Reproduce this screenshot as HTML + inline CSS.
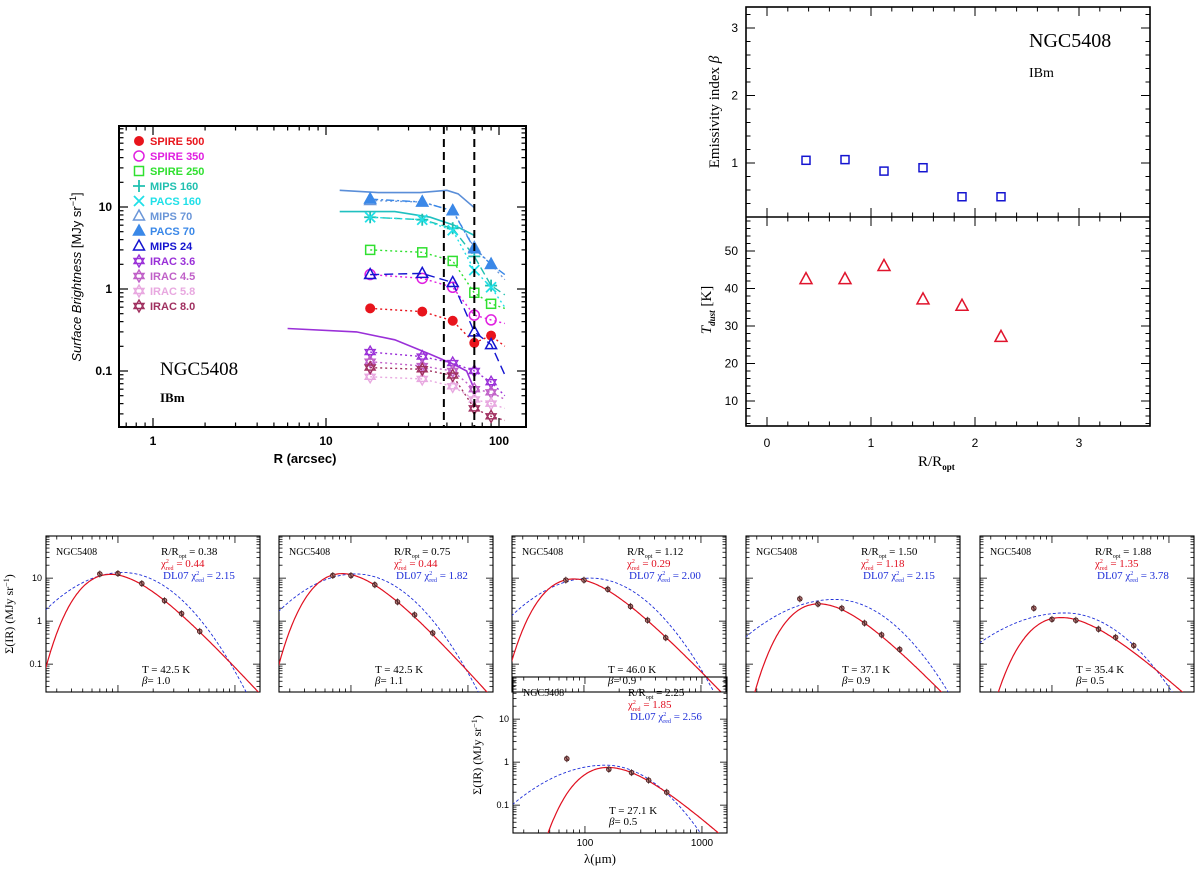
<!DOCTYPE html>
<html><head><meta charset="utf-8"><style>
html,body{margin:0;padding:0;background:#fff;width:1200px;height:869px;overflow:hidden;}
svg{display:block;}
text{font-family:"Liberation Sans",sans-serif;}
.sf{font-family:"Liberation Serif",serif;}
</style></head><body>
<svg id="fig" width="1200" height="869" viewBox="0 0 1200 869" xmlns="http://www.w3.org/2000/svg">
<defs>
<clipPath id="c1"><rect x="119" y="126" width="407" height="301"/></clipPath>
</defs>
<g id="g1"></g>
<g id="g2"></g>
<g id="g3"></g>
</svg>
<script>
// ===== Panel 1: radial profiles =====
const radii = [18, 36, 54, 72, 90, 108];
const bandNames = ['SPIRE 500','SPIRE 350','SPIRE 250','MIPS 160','PACS 160','MIPS 70','PACS 70','MIPS 24','IRAC 3.6','IRAC 4.5','IRAC 5.8','IRAC 8.0'];
const spire500 = [0.58,0.53,0.41,0.22,0.27,0.2];
const spire350 = [1.5,1.35,1.05,0.48,0.42,0.38];
const spire250 = [3.0,2.8,2.2,0.9,0.66,0.58];
const mips160 = [7.5,7.0,5.5,2.5,1.1,0.85];
const pacs160 = [7.5,7.0,5.2,1.7,1.05,0.6];
const mips70 = [12,11.5,9,3.2,2.0,1.3];
const pacs70 = [12.5,11.5,9,3.1,2.0,1.5];
const mips24 = [1.5,1.55,1.2,0.3,0.21,0.09];
const irac36 = [0.17,0.15,0.125,0.1,0.073,0.05];
const irac45 = [0.13,0.115,0.1,0.06,0.055,0.045];
const irac58 = [0.085,0.08,0.065,0.045,0.04,0.035];
const irac80 = [0.11,0.105,0.088,0.035,0.028,0.025];
const optBlueR = [12,20,35,50,58,72];
const optBlueV = [16,15,15,16,14.5,9.8];
const optCyanR = [12,25,40,55,72];
const optCyanV = [8.8,8.8,7.5,6,4.5];
const optPurpR = [6,15,25,40,55,65,72];
const optPurpV = [0.33,0.3,0.24,0.16,0.12,0.1,0.06];
const vlines = [48, 72];
// ===== Panel 2 =====
const rOpt = [0.375,0.75,1.125,1.5,1.875,2.25];
const betaVals = [1.04,1.05,0.88,0.93,0.5,0.5];
const tdustVals = [42.5,42.5,46,37.1,35.4,27.1];
// ===== SED panels =====
const sedLam = [70,100,160,250,350,500];
const sed1 = [12.5,12.8,7.5,3.0,1.5,0.58];
const sed2 = [11.5,11.5,7.0,2.8,1.4,0.53];
const sed3 = [9.0,9.0,5.5,2.2,1.05,0.41];
const sed4 = [3.3,2.5,2.0,0.9,0.48,0.22];
const sed5 = [2.0,1.1,1.05,0.65,0.42,0.27];
const sed6 = [1.2,null,0.68,0.57,0.38,0.2];
const sedRLabel = ['0.38','0.75','1.12','1.50','1.88','2.25'];
const sedChi = ['0.44','0.44','0.29','1.18','1.35','1.85'];
const sedDL = ['2.15','1.82','2.00','2.15','3.78','2.56'];
const sedT = [42.5,42.5,46.0,37.1,35.4,27.1];
const sedB = [1.0,1.1,0.9,0.9,0.5,0.5];
const dlPeakLam = [110,110,115,140,130,150];
const dlPeakVal = [13.5,12.5,10,3.2,1.55,0.85];
const dlCl = [2.0,2.0,1.9,1.5,1.3,1.45];
const dlCr = [2.5,2.5,2.4,2.3,2.2,2.4];

const NS='http://www.w3.org/2000/svg';
function mk(parent,tag,attrs,txt){const e=document.createElementNS(NS,tag);for(const k in attrs)e.setAttribute(k,attrs[k]);if(txt!==undefined)e.textContent=txt;parent.appendChild(e);return e;}
const L10=Math.log10;

// ---------- Panel 1 ----------
const g1=document.getElementById('g1');
const px=r=>153+173*L10(r), py=v=>289-82*L10(v);
const f1=mk(g1,'rect',{x:119,y:126,width:407,height:301,fill:'none',stroke:'#000','stroke-width':2});


for(let d=-1;d<=2;d++)for(let m=1;m<10;m++){const v=m*Math.pow(10,d);const x=px(v);if(x<120||x>525)continue;const len=m==1?9:4.5;
mk(g1,'line',{x1:x,y1:427,x2:x,y2:427-len,stroke:'#000','stroke-width':1.2});mk(g1,'line',{x1:x,y1:126,x2:x,y2:126+len,stroke:'#000','stroke-width':1.2});}
for(let d=-2;d<=1;d++)for(let m=1;m<10;m++){const v=m*Math.pow(10,d);const y=py(v);if(y<127||y>426)continue;const len=m==1?9:4.5;
mk(g1,'line',{x1:119,y1:y,x2:119+len,y2:y,stroke:'#000','stroke-width':1.2});mk(g1,'line',{x1:526,y1:y,x2:526-len,y2:y,stroke:'#000','stroke-width':1.2});}
[[1,'1'],[10,'10'],[100,'100']].forEach(t=>{const e=mk(g1,'text',{x:px(t[0]),y:445,'text-anchor':'middle','font-size':12,'font-weight':'bold'},t[1]);});
[[10,'10'],[1,'1'],[0.1,'0.1']].forEach(t=>{const e=mk(g1,'text',{x:112,y:py(t[0])+4,'text-anchor':'end','font-size':12,'font-weight':'bold'},t[1]);});
let e=mk(g1,'text',{x:305,y:463,'text-anchor':'middle','font-size':13,'font-weight':'bold'},'R (arcsec)');

e=mk(g1,'text',{x:0,y:0,'text-anchor':'middle','font-size':13,transform:'translate(81,277) rotate(-90)'});

mk(e,'tspan',{'font-style':'italic'},'Surface Brightness');mk(e,'tspan',{},' [MJy sr');mk(e,'tspan',{dy:-5,'font-size':9},'−1');mk(e,'tspan',{dy:5},']');
e=mk(g1,'text',{x:160,y:375,'font-size':19,class:'sf'},'NGC5408');
e=mk(g1,'text',{x:160,y:402,'font-size':13,'font-weight':'bold',class:'sf'},'IBm');

function sym(p,type,x,y,col,s){s=s||5;let el;
 if(type=='fc')el=mk(p,'circle',{cx:x,cy:y,r:s,fill:col});
 else if(type=='oc')el=mk(p,'circle',{cx:x,cy:y,r:s,fill:'none',stroke:col,'stroke-width':1.5});
 else if(type=='os')el=mk(p,'rect',{x:x-s+0.5,y:y-s+0.5,width:2*s-1,height:2*s-1,fill:'none',stroke:col,'stroke-width':1.5});
 else if(type=='pl')el=mk(p,'path',{d:`M${x-s-1} ${y}H${x+s+1}M${x} ${y-s-1}V${y+s+1}`,stroke:col,'stroke-width':1.8,fill:'none'});
 else if(type=='x')el=mk(p,'path',{d:`M${x-s} ${y-s}L${x+s} ${y+s}M${x-s} ${y+s}L${x+s} ${y-s}`,stroke:col,'stroke-width':1.8,fill:'none'});
 else if(type=='ot'||type=='ft')el=mk(p,'path',{d:`M${x} ${y-s-1}L${x+s+0.5} ${y+s-1}L${x-s-0.5} ${y+s-1}Z`,fill:type=='ft'?col:'none',stroke:col,'stroke-width':1.5});
 else if(type=='st')el=mk(p,'path',{d:`M${x} ${y-s-1}L${x+s} ${y+s*0.5}L${x-s} ${y+s*0.5}ZM${x} ${y+s+1}L${x+s} ${y-s*0.5}L${x-s} ${y-s*0.5}Z`,fill:'none',stroke:col,'stroke-width':1.4});
 return el;}

const series=[
 [spire500,'#e8141c','fc','2 3'],[spire350,'#e020e0','oc','2 3'],[spire250,'#30e030','os','2 3'],
 [mips160,'#20c0b0','pl','8 4'],[pacs160,'#20e0e8','x','2 3'],[mips70,'#6a96d8','ot','2 3'],
 [pacs70,'#3a88e8','ft','8 3 2 3'],[mips24,'#1414d0','ot','9 5'],[irac36,'#9a30d8','st','2 3'],
 [irac45,'#c060c8','st','2 3'],[irac58,'#e8a8e0','st','2 3'],[irac80,'#a03060','st','2 3']];
const cg=mk(g1,'g',{'clip-path':'url(#c1)'});

function polyline(par,xs,ys,col,dash,w,fx,fy){let d='';xs.forEach((v,i)=>{if(ys[i]==null)return;d+=(d?'L':'M')+fx(v).toFixed(1)+' '+fy(ys[i]).toFixed(1);});return mk(par,'path',{d:d,fill:'none',stroke:col,'stroke-width':w,'stroke-dasharray':dash||'none'});}
e=polyline(cg,optBlueR,optBlueV,'#5a8ed8','',1.6,px,py);
e=polyline(cg,optCyanR,optCyanV,'#20c0c0','',1.6,px,py);
e=polyline(cg,optPurpR,optPurpV,'#9a30d8','',1.6,px,py);
series.forEach((s,i)=>{const ln=polyline(cg,radii,s[0],s[1],s[3],1.4,px,py);
 
 
 for(let k=0;k<5;k++){const m=sym(cg,s[2],px(radii[k]),py(s[0][k]),s[1],5);
  
  }
 const ly=141+15*i;
 const lm=sym(g1,s[2],139,ly,s[1],5);
 
 const lt=mk(g1,'text',{x:150,y:ly+4,'font-size':11,'font-weight':'bold',fill:s[1]},bandNames[i]);
 
});
vlines.forEach(v=>{const l=mk(g1,'line',{x1:px(v),y1:126,x2:px(v),y2:427,stroke:'#000','stroke-width':2,'stroke-dasharray':'8 5'});
 });

// ---------- Panel 2 ----------
const g2=document.getElementById('g2');
const qx=v=>767+104*v, qb=b=>163-67.5*(b-1), qt=t=>401-3.75*(t-10);
e=mk(g2,'rect',{x:746,y:7,width:404,height:419,fill:'none',stroke:'#000','stroke-width':1.6});
e=mk(g2,'line',{x1:746,y1:217,x2:1150,y2:217,stroke:'#000','stroke-width':1.6});
for(let v=0;v<=3.6;v+=0.2){const x=qx(v);if(x<747||x>1149)continue;const maj=Math.abs(v-Math.round(v))<1e-6;const len=maj?9:4.5;
 [7,217,426].forEach((yy,j)=>{if(j!=2)mk(g2,'line',{x1:x,y1:yy,x2:x,y2:yy+len,stroke:'#000','stroke-width':1});if(j!=0)mk(g2,'line',{x1:x,y1:yy,x2:x,y2:yy-len,stroke:'#000','stroke-width':1});});}
for(let v=0.4;v<=3.3;v+=0.2){const y=qb(v);const maj=Math.abs(v-Math.round(v))<1e-6;const len=maj?9:4.5;
 mk(g2,'line',{x1:746,y1:y,x2:746+len,y2:y,stroke:'#000','stroke-width':1});mk(g2,'line',{x1:1150,y1:y,x2:1150-len,y2:y,stroke:'#000','stroke-width':1});}
for(let v=4;v<=58;v+=2){const y=qt(v);const maj=v%10==0;const len=maj?9:4.5;
 mk(g2,'line',{x1:746,y1:y,x2:746+len,y2:y,stroke:'#000','stroke-width':1});mk(g2,'line',{x1:1150,y1:y,x2:1150-len,y2:y,stroke:'#000','stroke-width':1});}
[0,1,2,3].forEach(v=>{const t=mk(g2,'text',{x:qx(v),y:447,'text-anchor':'middle','font-size':12},String(v));});
[1,2,3].forEach(v=>{const t=mk(g2,'text',{x:738,y:qb(v)+4,'text-anchor':'end','font-size':12},String(v));});
[10,20,30,40,50].forEach(v=>{const t=mk(g2,'text',{x:738,y:qt(v)+4,'text-anchor':'end','font-size':12},String(v));});
e=mk(g2,'text',{x:918,y:466,'font-size':15,class:'sf'});
mk(e,'tspan',{},'R/R');mk(e,'tspan',{dy:4,'font-size':9,'font-weight':'bold'},'opt');
e=mk(g2,'text',{x:0,y:0,'text-anchor':'middle','font-size':15,class:'sf',transform:'translate(719,112) rotate(-90)'});
mk(e,'tspan',{},'Emissivity index ');mk(e,'tspan',{'font-style':'italic'},'β');
e=mk(g2,'text',{x:0,y:0,'text-anchor':'middle','font-size':15,class:'sf',transform:'translate(711,310) rotate(-90)'});
mk(e,'tspan',{'font-style':'italic'},'T');mk(e,'tspan',{dy:4,'font-size':9,'font-style':'italic','font-weight':'bold'},'dust');mk(e,'tspan',{dy:-4},'  [K]');
e=mk(g2,'text',{x:1029,y:47,'font-size':20,class:'sf'},'NGC5408');
e=mk(g2,'text',{x:1029,y:77,'font-size':14,class:'sf'},'IBm');
rOpt.forEach((r,i)=>{const m=sym(g2,'os',qx(r),qb(betaVals[i]),'#1414d0',4.5);
 const t=sym(g2,'ot',qx(r),qt(tdustVals[i]),'#e0142c',5.5);});

// ---------- SED panels ----------
const g3=document.getElementById('g3');
const panelPos=[[46,536],[279,536],[512,536],[746,536],[980,536],[513,677]];
const sedData=[sed1,sed2,sed3,sed4,sed5,sed6];
const PW=214,PH=156;
function mbb(l,T,b){return Math.pow(l,-(3+b))/(Math.exp(14388/(l*T))-1);}
panelPos.forEach((pp,i)=>{
 const [L,T]=pp;const g=mk(g3,'g',{});
 
 
 const fx=l=>L+(L10(l)-1.385)*117, fy=s=>T+(1.98-L10(s))*43;
 const cid='cs'+i;const cp=mk(g,'clipPath',{id:cid});mk(cp,'rect',{x:L,y:T,width:PW,height:PH});
 mk(g,'rect',{x:L,y:T,width:PW,height:PH,fill:i==5?'none':'#fff',stroke:'#000','stroke-width':1.1});
 for(let d=1;d<=3;d++)for(let m=1;m<10;m++){const x=fx(m*Math.pow(10,d));if(x<L+1||x>L+PW-1)continue;const len=m==1?7:3.5;
  mk(g,'line',{x1:x,y1:T+PH,x2:x,y2:T+PH-len,stroke:'#000','stroke-width':0.8});mk(g,'line',{x1:x,y1:T,x2:x,y2:T+len,stroke:'#000','stroke-width':0.8});}
 for(let d=-2;d<=1;d++)for(let m=1;m<10;m++){const y=fy(m*Math.pow(10,d));if(y<T+1||y>T+PH-1)continue;const len=m==1?7:3.5;
  mk(g,'line',{x1:L,y1:y,x2:L+len,y2:y,stroke:'#000','stroke-width':0.8});mk(g,'line',{x1:L+PW,y1:y,x2:L+PW-len,y2:y,stroke:'#000','stroke-width':0.8});}
 if(i==0||i==5){
  [[10,'10'],[1,'1'],[0.1,'0.1']].forEach(t=>{const te=mk(g,'text',{x:L-4,y:fy(t[0])+3,'text-anchor':'end','font-size':9},t[1]);});
  const yl=mk(g,'text',{x:0,y:0,'text-anchor':'middle','font-size':12,class:'sf',transform:`translate(${i==0?13:481},${T+78}) rotate(-90)`});
  
  mk(yl,'tspan',{},'Σ(IR)  (MJy sr');mk(yl,'tspan',{dy:-4,'font-size':8},'−1');mk(yl,'tspan',{dy:4},')');}
 if(i==5){
  [[100,'100'],[1000,'1000']].forEach(t=>{const te=mk(g,'text',{x:fx(t[0]),y:T+PH+13,'text-anchor':'middle','font-size':10},t[1]);});
  const xl=mk(g,'text',{x:600,y:863,'text-anchor':'middle','font-size':13,class:'sf'},'λ(μm)');}
 const cg2=mk(g,'g',{'clip-path':`url(#${cid})`});
 let d='';for(let k=0;k<=120;k++){const ll=1.38+k*(1.85/120);const l=Math.pow(10,ll);const dl=ll-L10(dlPeakLam[i]);const c=dl<0?dlCl[i]:dlCr[i];const s=dlPeakVal[i]*Math.pow(10,-c*dl*dl);d+=(k?'L':'M')+fx(l).toFixed(1)+' '+fy(s).toFixed(1);}
 const bl=mk(cg2,'path',{d:d,fill:'none',stroke:'#1e2ed8','stroke-width':0.9,'stroke-dasharray':'3 2'});
 
 const A=sedData[i][3]/mbb(250,sedT[i],sedB[i]);d='';
 for(let k=0;k<=160;k++){const ll=1.38+k*(1.85/160);const l=Math.pow(10,ll);let s=A*mbb(l,sedT[i],sedB[i]);if(s<1e-4)s=1e-4;d+=(d?'L':'M')+fx(l).toFixed(1)+' '+fy(s).toFixed(1);}
 const rl=mk(cg2,'path',{d:d,fill:'none',stroke:'#e01020','stroke-width':1.2});
 
 sedLam.forEach((l,k)=>{const v=sedData[i][k];if(v==null)return;const x=fx(l),y=fy(v);
  const c=mk(cg2,'circle',{cx:x,cy:y,r:2.3,fill:'#c08080',stroke:'#502020','stroke-width':0.9});
  
  mk(cg2,'path',{d:`M${x} ${y-3.5}V${y+3.5}M${x-2} ${y-2}L${x+2} ${y+2}`,stroke:'#402020','stroke-width':0.7});});
 let te=mk(g,'text',{x:L+10,y:T+19,'font-size':10,class:'sf'},'NGC5408');
 te=mk(g,'text',{x:L+115,y:T+19,'font-size':11,class:'sf'});
 mk(te,'tspan',{},'R/R');mk(te,'tspan',{dy:3,'font-size':6},'opt');mk(te,'tspan',{dy:-3},' = '+sedRLabel[i]);
 te=mk(g,'text',{x:L+115,y:T+31,'font-size':11,class:'sf',fill:'#e01020'});
 mk(te,'tspan',{},'χ');mk(te,'tspan',{dy:-4,'font-size':6},'2');mk(te,'tspan',{dx:-3,dy:7,'font-size':6},'red');mk(te,'tspan',{dy:-3},' = '+sedChi[i]);
 te=mk(g,'text',{x:L+117,y:T+43,'font-size':11,class:'sf',fill:'#1e2ed8'});
 mk(te,'tspan',{},'DL07 χ');mk(te,'tspan',{dy:-4,'font-size':6},'2');mk(te,'tspan',{dx:-3,dy:7,'font-size':6},'red');mk(te,'tspan',{dy:-3},' = '+sedDL[i]);
 te=mk(g,'text',{x:L+96,y:T+PH-19,'font-size':11,class:'sf'},'T = '+sedT[i].toFixed(1)+' K');
 te=mk(g,'text',{x:L+96,y:T+PH-8,'font-size':11,class:'sf'});
 mk(te,'tspan',{'font-style':'italic'},'β');mk(te,'tspan',{},'= '+sedB[i].toFixed(1));
});
const ov=mk(g3,'line',{x1:512,y1:692,x2:726,y2:692,stroke:'#000','stroke-width':1.1});


</script>
</body></html>
